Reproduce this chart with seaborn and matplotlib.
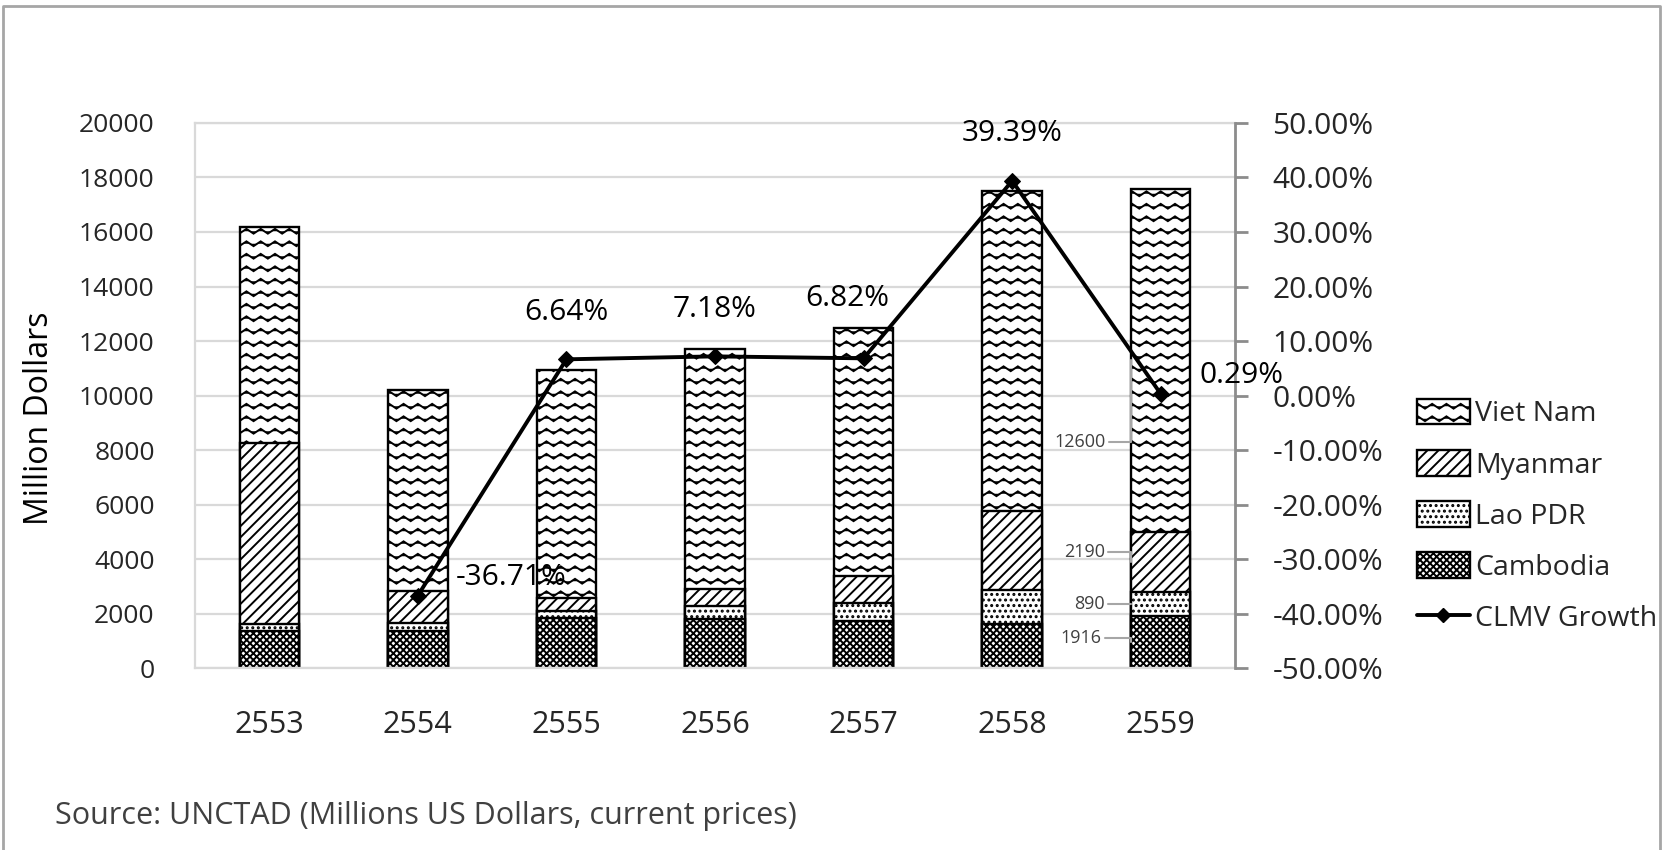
import warnings
import numpy as np
import pandas as pd
import seaborn as sns
import matplotlib
matplotlib.use("Agg")
import matplotlib.pyplot as plt
import matplotlib.patches as mpatches
from matplotlib.lines import Line2D
from matplotlib.ticker import FuncFormatter, MultipleLocator
from matplotlib import hatch as mhatch
from matplotlib.path import Path

warnings.filterwarnings("ignore")

# data (Millions US Dollars)
years = ["2553", "2554", "2555", "2556", "2557", "2558", "2559"]
cambodia = [1340, 1370, 1830, 1800, 1730, 1600, 1916]
lao = [280, 300, 250, 480, 670, 1260, 890]
myanmar = [6620, 1150, 500, 610, 990, 2900, 2190]
vietnam = [7960, 7400, 8340, 8820, 9100, 11730, 12600]
growth_years = ["2554", "2555", "2556", "2557", "2558", "2559"]
growth = [-36.71, 6.64, 7.18, 6.82, 39.39, 0.29]


# wavy hatch like the excel "wave" pattern
class WaveHatch(mhatch.HatchPatternBase):
    def __init__(self, hatch, density):
        self.rows = hatch.count("~") * 8
        self.pts = 7 * 4 + 1
        self.num_vertices = self.rows * self.pts

    def set_vertices_and_codes(self, vertices, codes):
        t = np.linspace(0, 1, self.pts)
        for i in range(self.rows):
            s = slice(i * self.pts, (i + 1) * self.pts)
            vertices[s, 0] = t
            vertices[s, 1] = (i + 0.5) / self.rows + 0.024 * np.sin(2 * np.pi * 7 * t)
            codes[s] = Path.LINETO
            codes[i * self.pts] = Path.MOVETO


mhatch._hatch_types.append(WaveHatch)

sns.set_theme(style="white")
plt.rcParams["font.family"] = ["Open Sans", "DejaVu Sans"]
plt.rcParams["hatch.linewidth"] = 1.4
plt.rcParams["hatch.color"] = "black"

df = pd.DataFrame({"year": years, "Cambodia": cambodia, "Lao PDR": lao,
                   "Myanmar": myanmar, "Viet Nam": vietnam})
df["c1"] = df["Cambodia"]
df["c2"] = df["c1"] + df["Lao PDR"]
df["c3"] = df["c2"] + df["Myanmar"]
df["c4"] = df["c3"] + df["Viet Nam"]

fig = plt.figure(figsize=(16.69, 8.5), dpi=100)
ax = fig.add_axes([0.1168, 0.2141, 0.6232, 0.6412])

layers = [("c4", "~", "Viet Nam"), ("c3", "///", "Myanmar"),
          ("c2", "...", "Lao PDR"), ("c1", "xxxxx", "Cambodia")]
for col, h, name in layers:
    sns.barplot(data=df, x="year", y=col, ax=ax, color="white", width=0.4,
                errorbar=None, saturation=1, edgecolor="black", linewidth=1.7,
                hatch=h)

ax.set_ylim(0, 20000)
ax.yaxis.set_major_locator(MultipleLocator(2000))
ax.set_xlim(-0.5, 6.5)
ax.set_xlabel("")
ax.set_ylabel("")
ax.grid(axis="y", color="#d9d9d9", lw=1.6)
ax.set_axisbelow(True)
for s in ["left", "bottom", "top"]:
    ax.spines[s].set_color("#d9d9d9")
    ax.spines[s].set_linewidth(1.6)
ax.spines["right"].set_visible(False)
ax.tick_params(axis="y", length=0, pad=29, labelsize=19)
ax.tick_params(axis="x", length=0, pad=30, labelsize=22)

# growth line on the right axis
ax2 = ax.twinx()
xpos = [years.index(y) for y in growth_years]
sns.lineplot(x=xpos, y=growth, ax=ax2, color="black", lw=2.8, marker="D",
             markersize=8, markeredgecolor="black")
ax2.set_ylim(-50, 50)
ax2.set_xlim(-0.5, 6.5)
ax2.yaxis.set_major_locator(MultipleLocator(10))
ax2.yaxis.set_major_formatter(FuncFormatter(lambda v, p: f"{v:.2f}%"))
ax2.set_ylabel("")
for s in ["left", "bottom", "top"]:
    ax2.spines[s].set_visible(False)
ax2.spines["right"].set_color("#8c8c8c")
ax2.spines["right"].set_linewidth(2)
ax2.tick_params(axis="y", direction="out", length=9, width=2, color="#8c8c8c",
                pad=18, labelsize=21.5)
ax2.grid(False)

offsets = [(27, 13, "left"), (0, 34, "center"), (0, 34, "center"),
           (-12, 43, "center"), (0, 34, "center"), (28, 13, "left")]
for xp, g, (dx, dy, ha) in zip(xpos, growth, offsets):
    ax2.annotate(f"{g:.2f}%", xy=(xp, g), xytext=(dx, dy), textcoords="offset points",
                 ha=ha, va="center", fontsize=21.5, color="black")

# value labels for the last bar
last = df.iloc[-1]
mids = [last["c1"] / 2, (last["c1"] + last["c2"]) / 2,
        (last["c2"] + last["c3"]) / 2, (last["c3"] + last["c4"]) / 2]
vals = [last["Cambodia"], last["Lao PDR"], last["Myanmar"], last["Viet Nam"]]
lab_off = [(-21, 3), (-19, 0), (-19, 7), (-18, -59)]
for m, v, (dx, dy) in zip(mids, vals, lab_off):
    ax.annotate(f"{v:.0f}", xy=(6 - 0.2, m), xytext=(dx, dy), textcoords="offset points",
                ha="right", va="center", fontsize=13, color="#404040",
                arrowprops=dict(arrowstyle="-", color="#a6a6a6", lw=1.5, relpos=(1, 0.5),
                                shrinkA=0, shrinkB=0,
                                connectionstyle="angle,angleA=0,angleB=90,rad=0"))

# legend
handles = [mpatches.Patch(facecolor="white", edgecolor="black", hatch=h, lw=1.7, label=n)
           for _, h, n in layers]
handles.append(Line2D([], [], color="black", lw=2.8, marker="D", markersize=7,
                      label="CLMV Growth"))
fig.legend(handles=handles, loc="upper left", bbox_to_anchor=(1417 / 1669, 1 - 399 / 850),
           frameon=False, fontsize=20.5, handlelength=1.85, handleheight=1.0,
           handletextpad=0.2, labelspacing=0.76, borderpad=0, borderaxespad=0)

fig.text(39 / 1669, 1 - 418 / 850, "Million Dollars", rotation=90, ha="center",
         va="center", fontsize=23, color="black")
fig.text(55 / 1669, 1 - 816 / 850, "Source: UNCTAD (Millions US Dollars, current prices)",
         ha="left", va="center", fontsize=22, color="#404040")

# outer frame of the chart box
fig.add_artist(Line2D([0.002, 0.002, 0.9946, 0.9946], [0, 0.993, 0.993, 0],
                      transform=fig.transFigure, color="#a6a6a6", lw=2))

fig.savefig("out.png", dpi=100, facecolor="white")
